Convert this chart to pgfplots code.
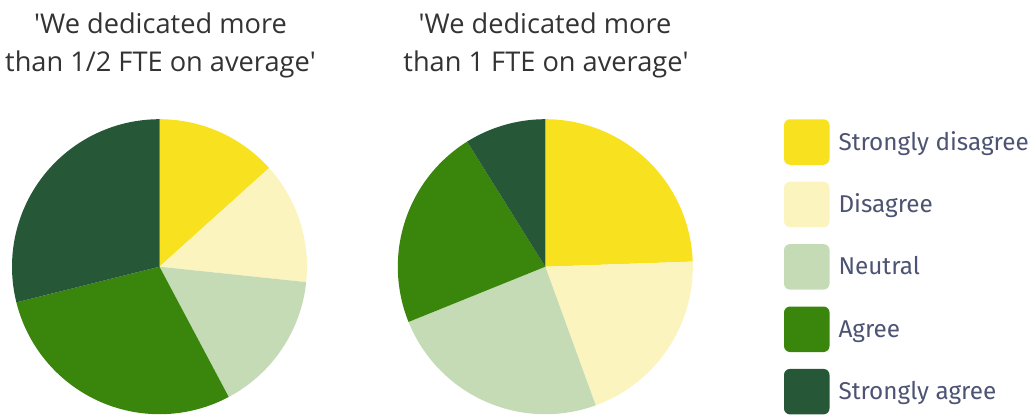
\documentclass[border=0pt]{standalone}
\usepackage{pgfplots}
\pgfplotsset{compat=1.18}
\usepackage{pgfplotstable}
\usepgfplotslibrary{polar}
\usepackage{fontspec}
\setmainfont{Open Sans}
\newfontfamily\legendfont{Fira Sans}

\definecolor{slice0}{HTML}{F8E11F}
\definecolor{slice1}{HTML}{FBF4BE}
\definecolor{slice2}{HTML}{C5DBB6}
\definecolor{slice3}{HTML}{3A860D}
\definecolor{slice4}{HTML}{265838}
\definecolor{titlegray}{HTML}{333333}
\definecolor{legendtext}{HTML}{4D5473}

% number of respondents per answer
\pgfplotstableread{
answer count
StronglyDisagree 6
Disagree 6
Neutral 7
Agree 13
StronglyAgree 13
}\halffte
\pgfplotstableread{
answer count
StronglyDisagree 11
Disagree 9
Neutral 11
Agree 10
StronglyAgree 4
}\onefte

% slices clockwise from 12 o'clock
\newcommand\pieslices[1]{%
  \pgfplotstablegetrowsof{#1}\pgfmathtruncatemacro\lastrow{\pgfplotsretval-1}%
  \pgfmathsetmacro\pietotal{0}%
  \pgfplotsforeachungrouped \r in {0,...,\lastrow}{%
    \pgfplotstablegetelem{\r}{count}\of{#1}%
    \pgfmathsetmacro\pietotal{\pietotal+\pgfplotsretval}}%
  \pgfmathsetmacro\startang{90}%
  \pgfplotsforeachungrouped \r in {0,...,\lastrow}{%
    \pgfplotstablegetelem{\r}{count}\of{#1}%
    \pgfmathsetmacro\endang{\startang-360*\pgfplotsretval/\pietotal}%
    \edef\doslice{\noexpand\addplot[draw=none, fill=slice\r, domain=\endang:\startang, samples=90] {1} -- (axis cs:0,0) -- cycle;}%
    \doslice
    \let\startang\endang}}

\pgfplotsset{pie/.style={hide axis, scale only axis, width=295pt, height=295pt,
  xmin=0, xmax=360, ymin=0, ymax=1, anchor=center, clip=false}}

\begin{document}
\begin{tikzpicture}
\useasboundingbox (0,0) rectangle (1035pt,-415pt);

\begin{polaraxis}[pie, at={(159.5pt,-266.7pt)}]
  \pieslices{\halffte}
\end{polaraxis}
\begin{polaraxis}[pie, at={(545.3pt,-266.7pt)}]
  \pieslices{\onefte}
\end{polaraxis}

\begin{scope}[every node/.style={text=titlegray, font=\fontsize{27.2}{33}\selectfont, anchor=base, inner sep=0pt}]
  \node at (160.5pt,-33.3pt) {\textquotesingle We dedicated more};
  \node at (160.5pt,-71.7pt) {than 1/2 FTE on average\textquotesingle};
  \node at (545pt,-33.3pt) {\textquotesingle We dedicated more};
  \node at (546pt,-71.7pt) {than 1 FTE on average\textquotesingle};
\end{scope}

\foreach \lab [count=\i from 0] in {Strongly disagree, Disagree, Neutral, Agree, Strongly agree}{
  \pgfmathsetmacro\ytop{119.3+62.4*\i}
  \fill[slice\i, rounded corners=6pt] (784pt,-\ytop pt) rectangle ++(45.5pt,-45.5pt);
  \node[anchor=base west, inner sep=0pt, text=legendtext, font=\legendfont\fontsize{24.3}{28}\selectfont]
    at (838.3pt,-\ytop pt-30.7pt) {\lab};
}
\end{tikzpicture}
\end{document}
